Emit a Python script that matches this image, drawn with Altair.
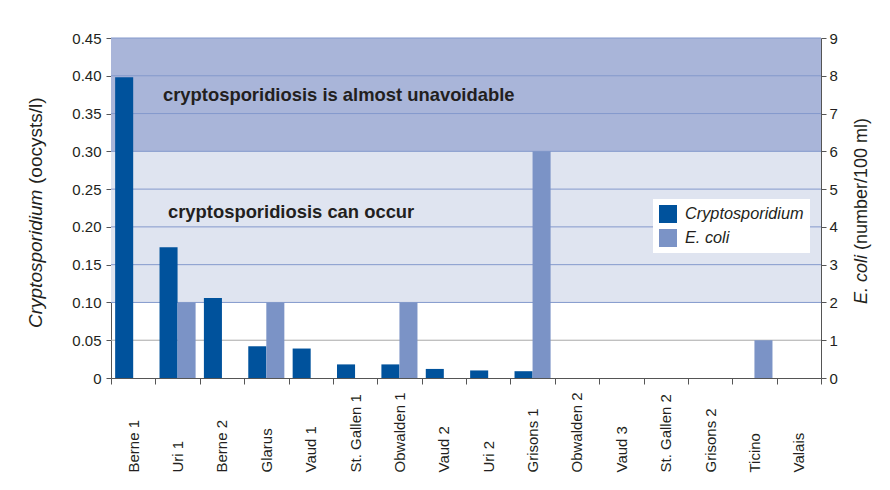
import altair as alt
import pandas as pd

# ---------------- data ----------------
sites = ["Berne 1", "Uri 1", "Berne 2", "Glarus", "Vaud 1", "St. Gallen 1",
         "Obwalden 1", "Vaud 2", "Uri 2", "Grisons 1", "Obwalden 2", "Vaud 3",
         "St. Gallen 2", "Grisons 2", "Ticino", "Valais"]
crypto = [0.398, 0.173, 0.106, 0.042, 0.039, 0.018, 0.018, 0.012, 0.010, 0.009,
          0, 0, 0, 0, 0, 0]
ecoli = [0, 2, 0, 2, 0, 0, 2, 0, 0, 6, 0, 0, 0, 0, 1, 0]
series_names = ["Cryptosporidium", "E. coli"]
series_colors = ["#00529c", "#7b93c6"]

zone_low = [0.10, 0.30]
zone_high = [0.30, 0.45]
zone_colors = ["#dfe4f0", "#a9b5d9"]
grid_values = [0.05, 0.10, 0.15, 0.20, 0.25, 0.30, 0.35, 0.40, 0.45]
left_ticks = [0, 0.05, 0.10, 0.15, 0.20, 0.25, 0.30, 0.35, 0.40, 0.45]
right_ticks = [0, 1, 2, 3, 4, 5, 6, 7, 8, 9]
note_texts = ["cryptosporidiosis is almost unavoidable", "cryptosporidiosis can occur"]
note_y = [0.375, 0.22]
note_site = ["Uri 1", "Uri 1"]

# ---------------- tables ----------------
W, H = 710, 340
FONT = "Liberation Sans"
TXT = "#231f20"

crypto_df = pd.DataFrame({"site": sites, "series": series_names[0], "value": crypto})
ecoli_df = pd.DataFrame({"site": sites, "series": series_names[1], "value": ecoli})
zones_df = pd.DataFrame({"lo": zone_low, "hi": zone_high, "col": zone_colors})
grid_df = pd.DataFrame({"g": grid_values})
notes_df = pd.DataFrame({"site": note_site, "y": note_y, "t": note_texts})

xscale = alt.Scale(type="band", domain=sites, paddingInner=0, paddingOuter=0)
yl = alt.Scale(domain=[0, 0.45], nice=False, zero=True)
yr = alt.Scale(domain=[0, 9], nice=False, zero=True)
off_scale = alt.Scale(domain=series_names, paddingInner=0, paddingOuter=0.23)
color_scale = alt.Scale(domain=series_names, range=series_colors)

left_axis = alt.Axis(
    title=None, orient="left", values=left_ticks, grid=False,
    labelExpr="datum.value == 0 ? '0' : format(datum.value, '.2f')",
    domainColor="#555555", tickColor="#555555", tickSize=5, labelPadding=5,
    labelFontSize=15, labelColor=TXT, labelFont=FONT,
)
right_axis = alt.Axis(
    title=None, orient="right", values=right_ticks, grid=False, format="d",
    domainColor="#555555", tickColor="#555555", tickSize=5, labelPadding=3,
    labelFontSize=15, labelColor=TXT, labelFont=FONT,
)
x_axis = alt.Axis(
    title=None, tickBand="extent", labelAngle=270, labelAlign="left",
    labelBaseline="middle", tickSize=6, labelPadding=88, domainColor="#555555",
    tickColor="#555555", labelFontSize=15, labelColor=TXT, labelFont=FONT,
)

zones = alt.Chart(zones_df).mark_rect().encode(
    y=alt.Y("lo:Q", scale=yl, axis=left_axis),
    y2="hi:Q",
    fill=alt.Fill("col:N", scale=None),
)

grid = alt.Chart(grid_df).mark_rule(strokeWidth=1).encode(
    y=alt.Y("g:Q", scale=yl, axis=left_axis),
    color=alt.condition("datum.g >= 0.09", alt.value("#8499cc"), alt.value("#a8a8a8")),
)

note1 = alt.Chart(notes_df.iloc[[0]]).mark_text(
    align="left", baseline="middle", dx=-14.6, fontSize=18.4, fontWeight="bold",
    font=FONT, color=TXT,
).encode(
    x=alt.X("site:N", scale=xscale, axis=x_axis, sort=sites),
    y=alt.Y("y:Q", scale=yl, axis=left_axis),
    text="t:N",
)
note2 = alt.Chart(notes_df.iloc[[1]]).mark_text(
    align="left", baseline="middle", dx=-9.6, fontSize=18.4, fontWeight="bold",
    font=FONT, color=TXT,
).encode(
    x=alt.X("site:N", scale=xscale, axis=x_axis, sort=sites),
    y=alt.Y("y:Q", scale=yl, axis=left_axis),
    text="t:N",
)

legend = alt.Legend(
    title=None, orient="none", legendX=542, legendY=161, fillColor="white",
    padding=6, symbolType="square", symbolSize=324, symbolStrokeWidth=0,
    symbolOpacity=1, labelFontSize=16.3, labelFontStyle="italic", labelFont=FONT,
    labelColor=TXT, rowPadding=6, labelOffset=8,
)

crypto_bars = alt.Chart(crypto_df).mark_bar().encode(
    x=alt.X("site:N", scale=xscale, axis=x_axis, sort=sites),
    xOffset=alt.XOffset("series:N", scale=off_scale),
    y=alt.Y("value:Q", scale=yl, axis=left_axis),
    fill=alt.Fill("series:N", scale=color_scale, legend=legend),
)

ecoli_bars = alt.Chart(ecoli_df).mark_bar().encode(
    x=alt.X("site:N", scale=xscale, axis=x_axis, sort=sites),
    xOffset=alt.XOffset("series:N", scale=off_scale),
    y=alt.Y("value:Q", scale=yr, axis=right_axis),
    fill=alt.Fill("series:N", scale=color_scale, legend=legend),
)

left_layer = alt.layer(zones, grid, note1, note2, crypto_bars)

# axis titles with mixed italic / roman text
title_df = pd.DataFrame({"t": ["x"]})
def title_part(text, x, y, style, size):
    return alt.Chart(title_df).mark_text(
        text=text, angle=270, align="left", baseline="middle", fontSize=size,
        fontStyle=style, font=FONT, color=TXT,
    ).encode(x=alt.value(x), y=alt.value(y))

titles = [
    title_part("Cryptosporidium", -75, 290, "italic", 19),
    title_part("(oocysts/l)", -75, 146, "normal", 19),
    title_part("E. coli", 751, 266, "italic", 18),
    title_part("(number/100 ml)", 751, 212, "normal", 18),
]

chart = alt.layer(left_layer, ecoli_bars, *titles).resolve_scale(
    y="independent"
).properties(
    width=W, height=H,
    autosize=alt.AutoSizeParams(type="none"),
    padding={"left": 103, "top": 30, "right": 60, "bottom": 104},
    background="white",
).configure_view(stroke=None)

chart.save("out.html", embed_options={"renderer": "svg", "actions": False})
